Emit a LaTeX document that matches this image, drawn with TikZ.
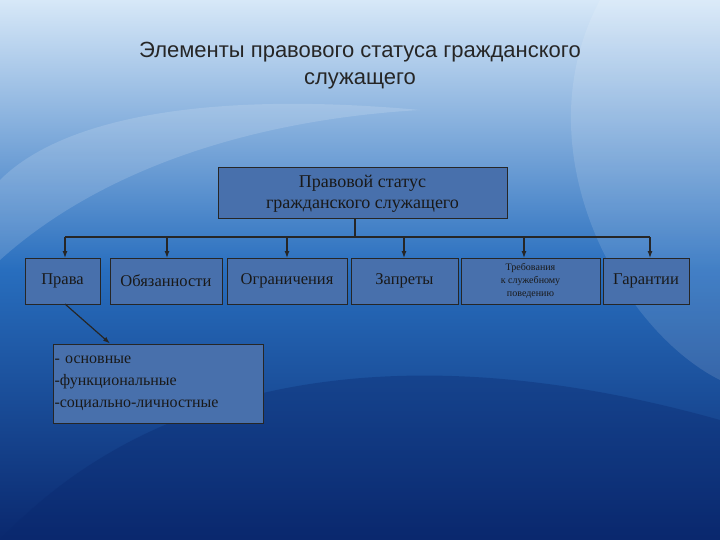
\documentclass[tikz,border=0pt]{standalone}
\usepackage{fontspec}
\usetikzlibrary{arrows.meta}
\setmainfont{Liberation Serif}
\newfontfamily\titlefont{Liberation Sans}
\begin{document}
\begin{tikzpicture}[x=1pt,y=-1pt,
  bx/.style={draw=black!85,fill={rgb,255:red,72;green,112;blue,172},line width=1pt,text=black!90,align=center,inner sep=0pt},
  arr/.style={-{Latex[length=7pt,width=5pt]},line width=1.2pt,black!85},
  ln/.style={line width=1.2pt,black!85}]
\definecolor{bgtop}{RGB}{215,232,248}
\definecolor{bgmid}{RGB}{40,110,190}
\definecolor{bgbot}{RGB}{10,40,110}
\useasboundingbox (0,0) rectangle (720,540);
\shade[top color=bgtop,bottom color=bgbot,middle color=bgmid] (0,0) rectangle (720,540);
\fill[bgbot,opacity=0.35] (0,540) .. controls (150,380) and (400,330) .. (720,420) -- (720,540) -- cycle;
\fill[white,opacity=0.12] (600,0) .. controls (520,150) and (620,330) .. (720,380) -- (720,0) -- cycle;
\fill[white,opacity=0.15] (0,180) .. controls (60,120) and (200,90) .. (420,110) .. controls (250,120) and (100,170) .. (0,260) -- cycle;
\node[font=\titlefont\fontsize{22}{27}\selectfont,text=black!85,align=center] (title) at (360,66) {Элементы правового статуса гражданского\\служащего};
\node[bx,minimum width=289,minimum height=51,font=\fontsize{18}{21}\selectfont] (top) at (362.5,193.5) {Правовой статус\\гражданского служащего};
\tikzset{rowb/.style={bx,minimum height=46,font=\fontsize{16.5}{19}\selectfont}}
\node[rowb,minimum width=75] (a) at (62.5,281) {Права};
\node[rowb,minimum width=112] (b) at (166,281) {Обязанности};
\node[rowb,minimum width=120] (c) at (287,281) {Ограничения};
\node[rowb,minimum width=107] (d) at (404.5,281) {Запреты};
\node[rowb,minimum width=139,font=\fontsize{10}{13}\selectfont] (e) at (530.5,281) {Требования\\к служебному\\поведению};
\node[rowb,minimum width=86] (f) at (646,281) {Гарантии};
\node[bx,minimum width=210,minimum height=79,align=left,text width=207,font=\fontsize{16}{22}\selectfont] (g) at (158,383.5) {- основные\\-функциональные\\-социально-личностные};
\coordinate (hub) at (355,237);
\draw[ln] (top.south -| hub) -- (hub);
\draw[ln] (65,237) coordinate (hl) -- (650,237) coordinate (hr);
\foreach \n/\x in {a/65,b/167,c/287,d/404,e/524,f/650}
  \draw[arr] (\x,237) -- ({\x},258);
\draw[arr] (65,304) -- (g.north west -| 110,0);
\end{tikzpicture}
\end{document}
